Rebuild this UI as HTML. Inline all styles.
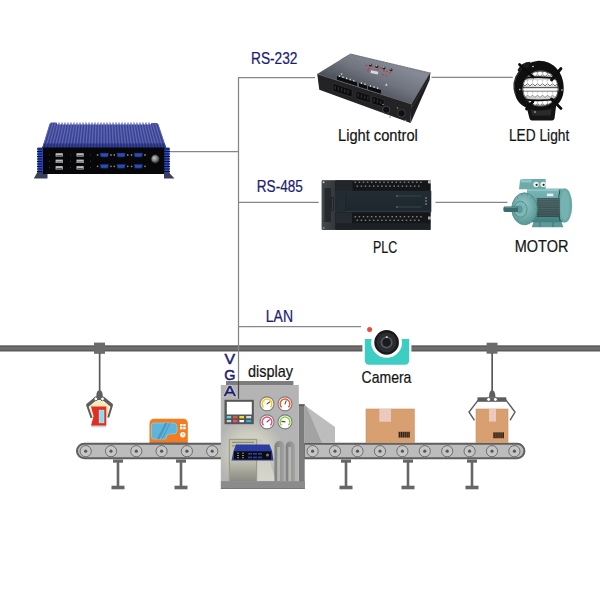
<!DOCTYPE html>
<html><head><meta charset="utf-8"><style>
html,body{margin:0;padding:0;background:#fff;width:600px;height:600px;overflow:hidden}
svg{display:block}
text{font-family:"Liberation Sans",sans-serif}
.nv{fill:#1c1c74;stroke:#1c1c74;stroke-width:0.22px;font-size:15.8px}
.bk{fill:#141414;stroke:#141414;stroke-width:0.22px;font-size:16.6px}
</style></head><body>
<svg width="600" height="600" viewBox="0 0 600 600">
<rect width="600" height="600" fill="#fff"/>
<!-- rail -->
<rect x="0" y="345.4" width="600" height="6.1" fill="#6f6f6f"/><rect x="0" y="345.7" width="600" height="1.1" fill="#575757"/><rect x="0" y="349.9" width="600" height="1.2" fill="#5b5b5b"/>

<rect x="77" y="443.8" width="160" height="14.4" rx="7.2" fill="#bcbcbc" stroke="#5e5e5e" stroke-width="2"/>
<circle cx="85.7" cy="451.2" r="5.6" fill="#c6c6c6" stroke="#6e6e6e" stroke-width="1"/><circle cx="85.7" cy="451.2" r="1.6" fill="#585858"/>
<circle cx="111.0" cy="451.2" r="5.6" fill="#c6c6c6" stroke="#6e6e6e" stroke-width="1"/><circle cx="111.0" cy="451.2" r="1.6" fill="#585858"/>
<circle cx="136.3" cy="451.2" r="5.6" fill="#c6c6c6" stroke="#6e6e6e" stroke-width="1"/><circle cx="136.3" cy="451.2" r="1.6" fill="#585858"/>
<circle cx="161.6" cy="451.2" r="5.6" fill="#c6c6c6" stroke="#6e6e6e" stroke-width="1"/><circle cx="161.6" cy="451.2" r="1.6" fill="#585858"/>
<circle cx="186.9" cy="451.2" r="5.6" fill="#c6c6c6" stroke="#6e6e6e" stroke-width="1"/><circle cx="186.9" cy="451.2" r="1.6" fill="#585858"/>
<circle cx="212.2" cy="451.2" r="5.6" fill="#c6c6c6" stroke="#6e6e6e" stroke-width="1"/><circle cx="212.2" cy="451.2" r="1.6" fill="#585858"/>
<path d="M304 443.8H517.2A7.2 7.2 0 0 1 517.2 458.2H304Z" fill="#bcbcbc" stroke="#5e5e5e" stroke-width="2"/>
<circle cx="312.6" cy="451.2" r="5.6" fill="#c6c6c6" stroke="#6e6e6e" stroke-width="1"/><circle cx="312.6" cy="451.2" r="1.6" fill="#585858"/>
<circle cx="335.0" cy="451.2" r="5.6" fill="#c6c6c6" stroke="#6e6e6e" stroke-width="1"/><circle cx="335.0" cy="451.2" r="1.6" fill="#585858"/>
<circle cx="357.5" cy="451.2" r="5.6" fill="#c6c6c6" stroke="#6e6e6e" stroke-width="1"/><circle cx="357.5" cy="451.2" r="1.6" fill="#585858"/>
<circle cx="380.0" cy="451.2" r="5.6" fill="#c6c6c6" stroke="#6e6e6e" stroke-width="1"/><circle cx="380.0" cy="451.2" r="1.6" fill="#585858"/>
<circle cx="402.4" cy="451.2" r="5.6" fill="#c6c6c6" stroke="#6e6e6e" stroke-width="1"/><circle cx="402.4" cy="451.2" r="1.6" fill="#585858"/>
<circle cx="424.8" cy="451.2" r="5.6" fill="#c6c6c6" stroke="#6e6e6e" stroke-width="1"/><circle cx="424.8" cy="451.2" r="1.6" fill="#585858"/>
<circle cx="447.2" cy="451.2" r="5.6" fill="#c6c6c6" stroke="#6e6e6e" stroke-width="1"/><circle cx="447.2" cy="451.2" r="1.6" fill="#585858"/>
<circle cx="469.6" cy="451.2" r="5.6" fill="#c6c6c6" stroke="#6e6e6e" stroke-width="1"/><circle cx="469.6" cy="451.2" r="1.6" fill="#585858"/>
<circle cx="492.0" cy="451.2" r="5.6" fill="#c6c6c6" stroke="#6e6e6e" stroke-width="1"/><circle cx="492.0" cy="451.2" r="1.6" fill="#585858"/>
<circle cx="514.4" cy="451.2" r="5.6" fill="#c6c6c6" stroke="#6e6e6e" stroke-width="1"/><circle cx="514.4" cy="451.2" r="1.6" fill="#585858"/>
<rect x="113" y="459.5" width="10" height="3.2" fill="#666"/><rect x="116.7" y="461" width="2.6" height="25" fill="#666"/><rect x="111.5" y="485.7" width="13" height="3.6" fill="#666"/>
<rect x="176" y="459.5" width="10" height="3.2" fill="#666"/><rect x="179.7" y="461" width="2.6" height="25" fill="#666"/><rect x="174.5" y="485.7" width="13" height="3.6" fill="#666"/>
<rect x="341" y="459.5" width="10" height="3.2" fill="#666"/><rect x="344.7" y="461" width="2.6" height="25" fill="#666"/><rect x="339.5" y="485.7" width="13" height="3.6" fill="#666"/>
<rect x="403" y="459.5" width="10" height="3.2" fill="#666"/><rect x="406.7" y="461" width="2.6" height="25" fill="#666"/><rect x="401.5" y="485.7" width="13" height="3.6" fill="#666"/>
<rect x="467" y="459.5" width="10" height="3.2" fill="#666"/><rect x="470.7" y="461" width="2.6" height="25" fill="#666"/><rect x="465.5" y="485.7" width="13" height="3.6" fill="#666"/>
<!-- machine -->
<defs>
<radialGradient id="glow" gradientUnits="userSpaceOnUse" cx="250" cy="452" r="34">
<stop offset="0" stop-color="#e2e2d0"/><stop offset="0.55" stop-color="#cdcdc0"/><stop offset="1" stop-color="#b4b4b4"/>
</radialGradient>
<linearGradient id="door" x1="0" y1="0" x2="0" y2="1">
<stop offset="0" stop-color="#c4c4aa"/><stop offset="0.45" stop-color="#c8c8b8"/><stop offset="0.7" stop-color="#aaaa9e"/><stop offset="1" stop-color="#8a8a82"/>
</linearGradient>
<linearGradient id="cone" x1="0" y1="0" x2="0" y2="1">
<stop offset="0" stop-color="#c8c8bc"/><stop offset="1" stop-color="#d6d6cc"/>
</linearGradient>
<linearGradient id="col" x1="0" y1="0" x2="1" y2="0">
<stop offset="0" stop-color="#7e7e7c"/><stop offset="0.5" stop-color="#929290"/><stop offset="1" stop-color="#a4a4a2"/>
</linearGradient>
</defs>
<rect x="226" y="381" width="67.4" height="4" fill="#7c7c7c"/>
<rect x="220.8" y="385" width="78" height="97" fill="url(#glow)"/>
<polygon points="256.5,439 262,439 276,481 256.5,481" fill="url(#cone)"/>
<rect x="228.8" y="438.8" width="28.4" height="42.5" fill="#9c9c88"/>
<rect x="230" y="440" width="26" height="41.3" fill="url(#door)"/>
<rect x="232" y="441.8" width="22" height="1.2" fill="#8f8f78"/>
<rect x="232" y="445.3" width="22" height="1.2" fill="#8f8f78"/>
<path d="M274.5 481V446a4.95 4.95 0 0 1 9.9 0V481Z" fill="url(#col)"/>
<path d="M285.8 481V446a4.6 4.6 0 0 1 9.2 0V481Z" fill="url(#col)"/>
<rect x="277.2" y="447" width="2.8" height="34" fill="#b6b6b3"/>
<rect x="288.4" y="447" width="2.8" height="34" fill="#b6b6b3"/>
<!-- right housing and chute -->
<rect x="298.9" y="404.3" width="5.8" height="84.7" fill="#7b7b7b"/><rect x="298.9" y="404.3" width="5.8" height="1.8" fill="#5e5e5e"/>
<polygon points="304.6,405.2 335,427.1 335,443 304.6,443" fill="#bdbdbd"/>
<polygon points="304.6,405.2 306.3,406.4 322,443 304.6,443" fill="#a3a3a3"/>
<rect x="220.8" y="481.2" width="84" height="7.8" fill="#8b8b8b"/>
<rect x="220.8" y="488" width="84" height="1" fill="#777"/>
<!-- screen panel -->
<rect x="224.5" y="399.8" width="29.3" height="24.4" fill="#555"/>
<rect x="226.8" y="401.8" width="25" height="12.7" fill="#fff"/>
<rect x="226.8" y="416" width="4.4" height="2.3" fill="#58d2ee"/>
<rect x="233" y="416" width="4.4" height="2.3" fill="#f0582a"/>
<rect x="239.4" y="416" width="4.6" height="2.3" fill="#f2e22a"/>
<rect x="246.2" y="416" width="5" height="2.3" fill="#d8d8d8"/>
<rect x="226.8" y="420" width="4.4" height="2.2" fill="#cfcfcf"/>
<rect x="233" y="420" width="4.4" height="2.2" fill="#f04a84"/>
<rect x="239.4" y="420" width="4.6" height="2.2" fill="#fafafa"/>
<rect x="246.2" y="420" width="5" height="2.2" fill="#22b4f0"/>
<!-- gauges -->
<circle cx="267" cy="403.9" r="7" fill="#fff" stroke="#7e7e7e" stroke-width="1.1"/>
<path d="M263.54 407.36A4.9 4.9 0 1 1 270.46 407.36" fill="none" stroke="#f7c623" stroke-width="1.5"/>
<path d="M267.00 403.90L269.62 402.06" stroke="#4a4a4a" stroke-width="1.1" stroke-linecap="round"/>
<circle cx="285" cy="403.9" r="7" fill="#fff" stroke="#7e7e7e" stroke-width="1.1"/>
<path d="M281.54 407.36A4.9 4.9 0 1 1 288.46 407.36" fill="none" stroke="#f05a28" stroke-width="1.5"/>
<path d="M285.00 403.90L286.09 400.89" stroke="#4a4a4a" stroke-width="1.1" stroke-linecap="round"/>
<circle cx="267" cy="421.9" r="7" fill="#fff" stroke="#7e7e7e" stroke-width="1.1"/>
<path d="M263.54 425.36A4.9 4.9 0 1 1 270.46 425.36" fill="none" stroke="#e8507a" stroke-width="1.5"/>
<path d="M267.00 421.90L269.45 419.84" stroke="#4a4a4a" stroke-width="1.1" stroke-linecap="round"/>
<circle cx="285" cy="421.9" r="7" fill="#fff" stroke="#7e7e7e" stroke-width="1.1"/>
<path d="M281.54 425.36A4.9 4.9 0 1 1 288.46 425.36" fill="none" stroke="#8ccf3e" stroke-width="1.5"/>
<path d="M285.00 421.90L281.85 421.34" stroke="#4a4a4a" stroke-width="1.1" stroke-linecap="round"/>
<!-- mini pc in machine -->
<polygon points="233.5,451 236,444.5 269.5,444.5 272,451" fill="#2f3fa6"/>
<g stroke="#24328a" stroke-width="0.5"><path d="M238 445V451M241 445V451M244 445V451M247 445V451M250 445V451M253 445V451M256 445V451M259 445V451M262 445V451M265 445V451M268 445V451"/></g>
<polygon points="231.5,460.5 233.5,451 272,451 273.5,460.5" fill="#2c3ba0"/>
<rect x="234" y="451.3" width="37.2" height="8.3" fill="#0c0c10"/>
<g fill="#8a8a8a"><rect x="237" y="452.7" width="2" height="1"/><rect x="237" y="455" width="2" height="1"/><rect x="237" y="457.2" width="2" height="1"/><rect x="242" y="452.7" width="2" height="1"/><rect x="242" y="455" width="2" height="1"/><rect x="242" y="457.2" width="2" height="1"/></g>
<g fill="#2a42a0"><rect x="248" y="453" width="4" height="1.6"/><rect x="253" y="453" width="4" height="1.6"/><rect x="258" y="453" width="4" height="1.6"/><rect x="248" y="456.6" width="4" height="1.6"/><rect x="253" y="456.6" width="4" height="1.6"/><rect x="258" y="456.6" width="4" height="1.6"/></g>
<circle cx="267.5" cy="455" r="1.5" fill="#777"/>

<!-- hangers -->
<rect x="94" y="342.6" width="11" height="11.2" fill="#6b6b6b"/>
<rect x="486.6" y="342.7" width="10.9" height="11" fill="#6b6b6b"/>
<rect x="98.8" y="353" width="1.7" height="38" fill="#5a5a5a"/>
<rect x="491.3" y="353" width="1.7" height="38" fill="#5a5a5a"/>
<!-- left claw -->
<path d="M96.3 397C96.3 392 97.5 390.6 99.6 390.6S102.8 392 102.8 397Z" fill="#5f5f5f"/>
<path d="M89.5 405.6L99.6 400.2L109.8 405.6L107 417L92.6 417Z" fill="#f6e8b8"/>
<path d="M91.6 418L87.2 405.4L96.5 398.3H102.8L111.9 405.4L108.2 417.5" fill="none" stroke="#5d5d5d" stroke-width="2" stroke-linejoin="round"/>
<path d="M87.2 405.6L96 398.4H103.2L112 405.6" fill="none" stroke="#5d5d5d" stroke-width="3.4" stroke-linejoin="round"/>
<circle cx="95.8" cy="398.9" r="1.9" fill="#fff" stroke="#5d5d5d" stroke-width="1"/>
<circle cx="102.5" cy="398.9" r="1.9" fill="#fff" stroke="#5d5d5d" stroke-width="1"/>
<path d="M91 406.4H106.3V425.8H91L93.6 416Z" fill="#e02e22"/>
<rect x="99.1" y="410.1" width="4.9" height="12.8" fill="#86dcf2" stroke="#d5f3fa" stroke-width="0.5"/>
<rect x="91.5" y="425.8" width="14.5" height="1.6" fill="#bfe0e0"/>
<!-- right claw -->
<path d="M489 397.5C489 392.3 490.3 390.6 492.2 390.6S495.4 392.3 495.4 397.5Z" fill="#5f5f5f"/>
<path d="M477.5 397.3H506.3V401.8H477.5Z" fill="#5d5d5d" />
<path d="M478.6 399.6L469 412L474.4 420.3" fill="none" stroke="#5d5d5d" stroke-width="1.4"/>
<path d="M505.6 399.6L515 412L510 420.3" fill="none" stroke="#5d5d5d" stroke-width="1.4"/>
<circle cx="488.6" cy="399.4" r="2" fill="#fff" stroke="#5d5d5d" stroke-width="1"/>
<circle cx="495.4" cy="399.4" r="2" fill="#fff" stroke="#5d5d5d" stroke-width="1"/>
<!-- boxes -->
<rect x="366" y="409" width="48.3" height="33.8" fill="#d8a070" stroke="#cc9060" stroke-width="0.6"/>
<rect x="379.3" y="409" width="11.7" height="12.7" fill="#ecc9bf"/>
<rect x="398.3" y="431.7" width="11.7" height="5.8" fill="#7a5a40"/>
<g stroke="#2a1810" stroke-width="0.9"><path d="M399.6 432V437.5M401.5 432V437.5M403.4 432V437.5M405.3 432V437.5M407.2 432V437.5M409 432V437.5"/></g>
<rect x="476" y="409" width="32" height="33.6" fill="#d8a070" stroke="#cc9060" stroke-width="0.6"/>
<rect x="489" y="409" width="7" height="12.6" fill="#ecc9bf"/>
<rect x="493" y="432.4" width="11" height="5.8" fill="#7a5a40"/>
<g stroke="#2a1810" stroke-width="0.9"><path d="M494.2 432.4V438.2M496.1 432.4V438.2M498 432.4V438.2M499.9 432.4V438.2M501.8 432.4V438.2M503.4 432.4V438.2"/></g>
<!-- orange microwave -->
<path d="M149.5 443V423.2A4.4 4.4 0 0 1 153.9 418.8H183.4A4.4 4.4 0 0 1 187.8 423.2V443Z" fill="#f47b1f"/>
<path d="M153.5 423H173.5A3.5 3.5 0 0 1 177 426.5V431A3 3 0 0 1 174 434H170A4 4 0 0 0 166 438V439H153.5A2 2 0 0 1 151.5 437V425A2 2 0 0 1 153.5 423Z" fill="#5fb4da" stroke="#78d4f2" stroke-width="0.8"/>
<path d="M157 439L165 423H167.5L159.5 439Z M161.5 439L169.5 423H170.6L162.6 439Z" fill="#4a98c0"/>
<rect x="180" y="424" width="2.5" height="2.3" fill="#fff"/><rect x="183.2" y="424" width="2.5" height="2.3" fill="#fff"/>
<rect x="180" y="427" width="2.5" height="2.3" fill="#fff"/><rect x="183.2" y="427" width="2.5" height="2.3" fill="#fff"/>
<circle cx="182.8" cy="434.7" r="2.7" fill="#fff"/>
<path d="M182.8 433V434.9H184.2" stroke="#f47b1f" stroke-width="0.6" fill="none"/>
<rect x="149.5" y="442.6" width="38.3" height="1.6" fill="#4f6470"/>
<!-- camera -->
<rect x="362.4" y="318.3" width="49" height="50" rx="10" fill="#fff"/>
<path d="M364.8 339H409.2V360.6A4.2 4.2 0 0 1 405 364.8H369A4.2 4.2 0 0 1 364.8 360.6Z" fill="#3ccdc3"/>
<circle cx="386.6" cy="342.4" r="15.4" fill="#fff"/>
<circle cx="386.6" cy="342.4" r="12.3" fill="#18191b"/>
<circle cx="386.6" cy="342.4" r="10" fill="#2a2c30"/>
<circle cx="386.6" cy="342.4" r="6" fill="#53575f"/>
<circle cx="386.6" cy="342.4" r="4.3" fill="#1a1b1e"/>
<rect x="385.8" y="336.4" width="1.8" height="1.4" fill="#f5f5f5"/>
<circle cx="369.6" cy="329.4" r="2.5" fill="#f2483a"/>

<!-- connection lines -->
<g stroke="#868686" stroke-width="1.25" fill="none">
<path d="M238.5 77V398.5"/>
<path d="M238.5 77.6H315"/>
<path d="M167 151.5H238.5"/>
<path d="M238.5 202.3H318.7"/>
<path d="M238.5 326.6H361"/>
<path d="M431.5 77.4H512.8"/>
<path d="M435.5 202.3H507.4"/>
</g>
<path d="M238.5 381V398.7" stroke="#4a4a4a" stroke-width="1.1"/>

<!-- labels -->
<text class="nv" x="251" y="63.7" textLength="46.5" lengthAdjust="spacingAndGlyphs">RS-232</text>
<text class="nv" x="256.8" y="192.4" textLength="46" lengthAdjust="spacingAndGlyphs">RS-485</text>
<text class="nv" x="265.8" y="321.7" textLength="27.2" lengthAdjust="spacingAndGlyphs">LAN</text>
<text class="nv" x="224.5" y="364.2" style="font-size:14.6px;stroke-width:0.5px" textLength="10.6" lengthAdjust="spacingAndGlyphs">V</text>
<text class="nv" x="224.2" y="380.2" style="font-size:14.8px;stroke-width:0.5px" textLength="11.2" lengthAdjust="spacingAndGlyphs">G</text>
<text x="223.8" y="396.2" style="font-size:14.8px;fill:none;stroke:#e6e6d2;stroke-width:1.6px;font-family:'Liberation Sans',sans-serif" textLength="12" lengthAdjust="spacingAndGlyphs">A</text>
<text class="nv" x="223.8" y="396.2" style="font-size:14.8px;stroke-width:0.5px" textLength="12" lengthAdjust="spacingAndGlyphs">A</text>
<text class="bk" x="338" y="141.2" textLength="79.8" lengthAdjust="spacingAndGlyphs">Light control</text>
<text class="bk" x="509" y="140.7" textLength="60.2" lengthAdjust="spacingAndGlyphs">LED Light</text>
<text class="bk" x="373" y="253" textLength="24.2" lengthAdjust="spacingAndGlyphs">PLC</text>
<text class="bk" x="514.8" y="251.6" textLength="53.6" lengthAdjust="spacingAndGlyphs">MOTOR</text>
<text class="bk" x="361.6" y="383" textLength="49.8" lengthAdjust="spacingAndGlyphs">Camera</text>
<text class="bk" x="248" y="376.7" textLength="45" lengthAdjust="spacingAndGlyphs">display</text>


<defs>
<linearGradient id="pcTop" x1="0" y1="0" x2="0" y2="1"><stop offset="0" stop-color="#4e58a6"/><stop offset="0.75" stop-color="#4850a0"/><stop offset="1" stop-color="#343e8a"/></linearGradient>
<radialGradient id="pwr" cx="0.4" cy="0.4" r="0.6"><stop offset="0" stop-color="#c8c8c8"/><stop offset="0.55" stop-color="#7a7a7a"/><stop offset="1" stop-color="#333"/></radialGradient>
<clipPath id="pcTopClip"><polygon points="49.5,124 51,122.6 56.5,122.6 57.5,124.6 150.5,124.6 151.5,123 157,123 158.5,124.5 166.5,148.5 42,148.5"/></clipPath>
</defs>
<polygon points="49.5,124 51,122.6 56.5,122.6 57.5,124.6 150.5,124.6 151.5,123 157,123 158.5,124.5 166.5,148.5 42,148.5" fill="url(#pcTop)"/>
<path d="M59.0 122.4V125M62.0 122.4V125M65.0 122.4V125M68.0 122.4V125M71.0 122.4V125M74.0 122.4V125M77.0 122.4V125M80.0 122.4V125M83.0 122.4V125M86.0 122.4V125M89.0 122.4V125M92.0 122.4V125M95.0 122.4V125M98.0 122.4V125M101.0 122.4V125M104.0 122.4V125M107.0 122.4V125M110.0 122.4V125M113.0 122.4V125M116.0 122.4V125M119.0 122.4V125M122.0 122.4V125M125.0 122.4V125M128.0 122.4V125M131.0 122.4V125M134.0 122.4V125M137.0 122.4V125M140.0 122.4V125M143.0 122.4V125M146.0 122.4V125M149.0 122.4V125" stroke="#7078b8" stroke-width="1.4"/>
<g clip-path="url(#pcTopClip)">
<path d="M50.0 123.5L42.5 148.5M52.7 123.5L45.6 148.5M55.4 123.5L48.7 148.5M58.1 123.5L51.8 148.5M60.8 123.5L54.9 148.5M63.5 123.5L57.9 148.5M66.2 123.5L61.0 148.5M68.9 123.5L64.1 148.5M71.6 123.5L67.2 148.5M74.3 123.5L70.3 148.5M77.0 123.5L73.4 148.5M79.7 123.5L76.5 148.5M82.4 123.5L79.5 148.5M85.1 123.5L82.6 148.5M87.8 123.5L85.7 148.5M90.5 123.5L88.8 148.5M93.2 123.5L91.9 148.5M95.9 123.5L95.0 148.5M98.6 123.5L98.1 148.5M101.3 123.5L101.2 148.5M104.0 123.5L104.2 148.5M106.7 123.5L107.3 148.5M109.4 123.5L110.4 148.5M112.1 123.5L113.5 148.5M114.8 123.5L116.6 148.5M117.5 123.5L119.7 148.5M120.2 123.5L122.8 148.5M122.9 123.5L125.9 148.5M125.6 123.5L128.9 148.5M128.3 123.5L132.0 148.5M131.0 123.5L135.1 148.5M133.7 123.5L138.2 148.5M136.4 123.5L141.3 148.5M139.1 123.5L144.4 148.5M141.8 123.5L147.5 148.5M144.5 123.5L150.6 148.5M147.2 123.5L153.7 148.5M149.9 123.5L156.7 148.5M152.6 123.5L159.8 148.5M155.3 123.5L162.9 148.5M158.0 123.5L166.0 148.5" stroke="#6a74bc" stroke-width="0.9" opacity="0.8"/>
<path d="M51.4 123.5L44.0 148.5M54.1 123.5L47.1 148.5M56.8 123.5L50.2 148.5M59.5 123.5L53.3 148.5M62.2 123.5L56.4 148.5M64.9 123.5L59.5 148.5M67.6 123.5L62.6 148.5M70.3 123.5L65.7 148.5M73.0 123.5L68.8 148.5M75.7 123.5L71.8 148.5M78.4 123.5L74.9 148.5M81.1 123.5L78.0 148.5M83.8 123.5L81.1 148.5M86.5 123.5L84.2 148.5M89.2 123.5L87.3 148.5M91.9 123.5L90.4 148.5M94.6 123.5L93.5 148.5M97.3 123.5L96.5 148.5M100.0 123.5L99.6 148.5M102.7 123.5L102.7 148.5M105.4 123.5L105.8 148.5M108.1 123.5L108.9 148.5M110.8 123.5L112.0 148.5M113.5 123.5L115.1 148.5M116.2 123.5L118.1 148.5M118.9 123.5L121.2 148.5M121.6 123.5L124.3 148.5M124.3 123.5L127.4 148.5M127.0 123.5L130.5 148.5M129.7 123.5L133.6 148.5M132.4 123.5L136.7 148.5M135.1 123.5L139.8 148.5M137.8 123.5L142.9 148.5M140.5 123.5L145.9 148.5M143.2 123.5L149.0 148.5M145.9 123.5L152.1 148.5M148.6 123.5L155.2 148.5M151.3 123.5L158.3 148.5M154.0 123.5L161.4 148.5M156.7 123.5L164.5 148.5M159.4 123.5L167.6 148.5" stroke="#2a3482" stroke-width="0.8" opacity="0.7"/>
<rect x="40" y="143.5" width="130" height="5" fill="#14206a" opacity="0.45"/>
</g>
<rect x="37.5" y="147.5" width="5" height="26" fill="#2c4cc4"/>
<path d="M37 149.0H42.5M37 151.5H42.5M37 154.0H42.5M37 156.5H42.5M37 159.0H42.5M37 161.5H42.5M37 164.0H42.5M37 166.5H42.5M37 169.0H42.5M37 171.5H42.5" stroke="#0a1040" stroke-width="1"/>
<rect x="164" y="147.5" width="5.5" height="27.5" fill="#2c4cc4"/>
<path d="M164 149.0H170M164 151.5H170M164 154.0H170M164 156.5H170M164 159.0H170M164 161.5H170M164 164.0H170M164 166.5H170M164 169.0H170M164 171.5H170M164 174.0H170" stroke="#0a1040" stroke-width="1"/>
<rect x="42" y="147.5" width="122.3" height="26.5" fill="#070709"/>
<path d="M42.5 148V173.5" stroke="#2a3ea8" stroke-width="1"/>
<polygon points="33.8,178.6 37.5,172 42.5,172 42.5,174 47.5,174 47.5,178.6" fill="#3a3e5a"/>
<polygon points="164,172.5 168.8,172.5 174.5,178.6 164,178.6" fill="#3a3e5a"/>
<rect x="55.6" y="153.2" width="7.2" height="3.4" fill="#bdbdbd"/><rect x="56.4" y="155.1" width="5.6" height="1" fill="#555"/>
<rect x="55.6" y="159.6" width="7.2" height="3.4" fill="#bdbdbd"/><rect x="56.4" y="161.5" width="5.6" height="1" fill="#555"/>
<rect x="55.6" y="166.1" width="7.2" height="3.4" fill="#bdbdbd"/><rect x="56.4" y="168.0" width="5.6" height="1" fill="#555"/>
<rect x="76.5" y="153.2" width="7.2" height="3.4" fill="#bdbdbd"/><rect x="77.3" y="155.1" width="5.6" height="1" fill="#555"/>
<rect x="76.5" y="159.6" width="7.2" height="3.4" fill="#bdbdbd"/><rect x="77.3" y="161.5" width="5.6" height="1" fill="#555"/>
<rect x="76.5" y="166.1" width="7.2" height="3.4" fill="#bdbdbd"/><rect x="77.3" y="168.0" width="5.6" height="1" fill="#555"/>
<circle cx="49.5" cy="154.8" r="0.6" fill="#3a3a3a"/>
<circle cx="49.5" cy="161.2" r="0.6" fill="#3a3a3a"/>
<circle cx="49.5" cy="167.7" r="0.6" fill="#3a3a3a"/>
<circle cx="70.5" cy="154.8" r="0.6" fill="#3a3a3a"/>
<circle cx="70.5" cy="161.2" r="0.6" fill="#3a3a3a"/>
<circle cx="70.5" cy="167.7" r="0.6" fill="#3a3a3a"/>
<circle cx="90.5" cy="154.8" r="0.6" fill="#3a3a3a"/>
<circle cx="90.5" cy="161.2" r="0.6" fill="#3a3a3a"/>
<circle cx="90.5" cy="167.7" r="0.6" fill="#3a3a3a"/>
<path d="M100 153H108.7L107.9 157H100.8Z" fill="#2d4cb0" stroke="#101a48" stroke-width="0.5"/>
<circle cx="97.6" cy="155" r="0.9" fill="#8a8070"/><circle cx="111" cy="155" r="0.9" fill="#8a8070"/>
<path d="M100 164.3H108.7L107.9 168.3H100.8Z" fill="#2d4cb0" stroke="#101a48" stroke-width="0.5"/>
<circle cx="97.6" cy="166.3" r="0.9" fill="#8a8070"/><circle cx="111" cy="166.3" r="0.9" fill="#8a8070"/>
<path d="M116.7 153H125.4L124.60000000000001 157H117.5Z" fill="#2d4cb0" stroke="#101a48" stroke-width="0.5"/>
<circle cx="114.3" cy="155" r="0.9" fill="#8a8070"/><circle cx="127.7" cy="155" r="0.9" fill="#8a8070"/>
<path d="M116.7 164.3H125.4L124.60000000000001 168.3H117.5Z" fill="#2d4cb0" stroke="#101a48" stroke-width="0.5"/>
<circle cx="114.3" cy="166.3" r="0.9" fill="#8a8070"/><circle cx="127.7" cy="166.3" r="0.9" fill="#8a8070"/>
<path d="M134 153H142.7L141.9 157H134.8Z" fill="#2d4cb0" stroke="#101a48" stroke-width="0.5"/>
<circle cx="131.6" cy="155" r="0.9" fill="#8a8070"/><circle cx="145" cy="155" r="0.9" fill="#8a8070"/>
<path d="M134 164.3H142.7L141.9 168.3H134.8Z" fill="#2d4cb0" stroke="#101a48" stroke-width="0.5"/>
<circle cx="131.6" cy="166.3" r="0.9" fill="#8a8070"/><circle cx="145" cy="166.3" r="0.9" fill="#8a8070"/>
<circle cx="155.3" cy="159" r="4.4" fill="url(#pwr)" stroke="#111" stroke-width="0.9"/>
<defs>
<linearGradient id="lcTop" gradientUnits="userSpaceOnUse" x1="386" y1="60" x2="372" y2="93"><stop offset="0" stop-color="#868a96"/><stop offset="0.55" stop-color="#70747e"/><stop offset="1" stop-color="#50545e"/></linearGradient>
</defs>
<polygon points="317.2,74 350.5,53.6 430.4,72.4 411.2,104" fill="url(#lcTop)"/>
<polygon points="317.2,74 411.2,104 410.6,123 319.3,89.8" fill="#232326"/>
<polygon points="411.2,104 430.4,72.4 429.6,80 410.6,123" fill="#1e1e22"/><path d="M411.6 108L429.8 77" stroke="#3c3c42" stroke-width="0.6"/>
<path d="M317.2 74L411.4 104L430.4 72.4" fill="none" stroke="#5a5a60" stroke-width="0.6"/>
<polygon points="333.0,83.5 352.0,89.6 352.0,97.1 333.0,91.0" fill="#0b0b0c" stroke="#3c3c40" stroke-width="0.5"/>
<rect x="334.5" y="86.0" width="1.5" height="3.5" fill="#2a2a2e"/>
<rect x="337.7" y="87.0" width="1.5" height="3.5" fill="#2a2a2e"/>
<rect x="340.9" y="88.0" width="1.5" height="3.5" fill="#2a2a2e"/>
<rect x="344.1" y="89.1" width="1.5" height="3.5" fill="#2a2a2e"/>
<rect x="347.3" y="90.1" width="1.5" height="3.5" fill="#2a2a2e"/>
<polygon points="356.0,90.9 370.0,95.3 370.0,102.8 356.0,98.4" fill="#0b0b0c" stroke="#3c3c40" stroke-width="0.5"/>
<rect x="357.5" y="93.3" width="1.5" height="3.5" fill="#2a2a2e"/>
<rect x="360.7" y="94.4" width="1.5" height="3.5" fill="#2a2a2e"/>
<rect x="363.9" y="95.4" width="1.5" height="3.5" fill="#2a2a2e"/>
<rect x="367.1" y="96.4" width="1.5" height="3.5" fill="#2a2a2e"/>
<polygon points="372.0,96.0 384.0,99.8 384.0,107.3 372.0,103.5" fill="#0b0b0c" stroke="#3c3c40" stroke-width="0.5"/>
<rect x="373.5" y="98.4" width="1.5" height="3.5" fill="#2a2a2e"/>
<rect x="376.7" y="99.4" width="1.5" height="3.5" fill="#2a2a2e"/>
<rect x="379.9" y="100.5" width="1.5" height="3.5" fill="#2a2a2e"/>
<polygon points="337.0,76.1 357.0,82.5 357.0,86.1 337.0,79.7" fill="#0c0c0e"/>
<rect x="338.8" y="75.3" width="1.2" height="1.6" fill="#d8d8d8"/>
<rect x="342.4" y="76.4" width="1.2" height="1.6" fill="#d8d8d8"/>
<rect x="346.0" y="77.6" width="1.2" height="1.6" fill="#d8d8d8"/>
<rect x="349.6" y="78.7" width="1.2" height="1.6" fill="#d8d8d8"/>
<rect x="353.2" y="79.9" width="1.2" height="1.6" fill="#d8d8d8"/>
<polygon points="359.0,83.1 367.0,85.7 367.0,89.3 359.0,86.7" fill="#0c0c0e"/>
<rect x="360.8" y="82.3" width="1.2" height="1.6" fill="#d8d8d8"/>
<rect x="364.4" y="83.4" width="1.2" height="1.6" fill="#d8d8d8"/>
<polygon points="368.0,86.0 381.0,90.1 381.0,93.7 368.0,89.6" fill="#0c0c0e"/>
<rect x="369.8" y="85.2" width="1.2" height="1.6" fill="#d8d8d8"/>
<rect x="373.4" y="86.3" width="1.2" height="1.6" fill="#d8d8d8"/>
<rect x="377.0" y="87.4" width="1.2" height="1.6" fill="#d8d8d8"/>
<path d="M340.5 73.5l2.2 0l-1.1 1.6z" fill="#e8e8e8"/>
<path d="M385 85.5l2.6 0l-1.3 -2z" fill="#e8e8e8"/>
<g stroke="#6a6a70" stroke-width="0.5"><path d="M323 72L337 63.5M326 73L340 64.5M329 74L343 65.5M336 68.5L345 63M341 59.5L348 55.6"/></g>
<circle cx="366.5" cy="65.5" r="0.8" fill="#d82a2a"/>
<circle cx="369" cy="68.5" r="0.8" fill="#d82a2a"/>
<circle cx="372" cy="66" r="0.8" fill="#d82a2a"/>
<circle cx="375.5" cy="67" r="0.8" fill="#d82a2a"/>
<circle cx="378" cy="69.5" r="0.8" fill="#d82a2a"/>
<circle cx="381" cy="68" r="0.8" fill="#d82a2a"/>
<circle cx="384" cy="71" r="0.8" fill="#d82a2a"/>
<circle cx="387" cy="71.5" r="0.8" fill="#d82a2a"/>
<circle cx="390" cy="73" r="0.8" fill="#d82a2a"/>
<circle cx="368" cy="70.5" r="0.8" fill="#d82a2a"/>
<circle cx="383" cy="74.5" r="0.8" fill="#d82a2a"/>
<circle cx="386.5" cy="75.5" r="0.8" fill="#d82a2a"/>
<circle cx="370.3" cy="65" r="1.5" fill="#1e1e22"/><circle cx="370.1" cy="64.3" r="0.7" fill="#dcdce0"/>
<circle cx="377" cy="66.5" r="1.5" fill="#1e1e22"/><circle cx="376.8" cy="65.8" r="0.7" fill="#dcdce0"/>
<circle cx="384" cy="68" r="1.5" fill="#1e1e22"/><circle cx="383.8" cy="67.3" r="0.7" fill="#dcdce0"/>
<circle cx="391" cy="69.8" r="1.5" fill="#1e1e22"/><circle cx="390.8" cy="69.1" r="0.7" fill="#dcdce0"/>
<polygon points="371,70.3 378.4,71.8 377.8,74.6 370.4,73.1" fill="#d8d8dc"/>
<circle cx="386.3" cy="109.8" r="3.6" fill="#101012" stroke="#505056" stroke-width="0.7"/>
<circle cx="401.5" cy="113.3" r="3.8" fill="#101012" stroke="#505056" stroke-width="0.7"/>
<circle cx="383" cy="104.5" r="0.8" fill="#8a8a90"/>
<circle cx="390" cy="117" r="0.8" fill="#8a8a90"/>
<circle cx="397.5" cy="108" r="0.8" fill="#8a8a90"/>
<circle cx="405.5" cy="120.5" r="0.8" fill="#8a8a90"/>
<path d="M352 54.8L428 72.8" stroke="#606066" stroke-width="0.6" stroke-dasharray="1.5 2"/>
<defs>
<radialGradient id="lens" cx="0.5" cy="0.5" r="0.5"><stop offset="0" stop-color="#e4e4e4"/><stop offset="0.85" stop-color="#c8c8c8"/><stop offset="1" stop-color="#7a7a7a"/></radialGradient>
<clipPath id="lensClip"><circle cx="540.5" cy="88.6" r="18"/></clipPath>
</defs>
<path d="M525.5 103H556.5L554.5 118.5Q554 120.6 552 120.6H532Q530 120.6 529.5 118.5Z" fill="#141414"/>
<path d="M531 109.5H551.5L550.5 115.5H532Z" fill="#2a2a2a"/>
<path d="M514.3 88C514.3 72 524 62.5 538.5 60.8C553 60.5 563.7 72 563.7 88.5C563.7 102 555 110 540 110.5C524 110.5 514.3 102 514.3 88Z" fill="#0f0f0f"/>
<path d="M517.5 70Q521 62 530.5 61.8L528 67.5Q522 68 519.5 73Z" fill="#1c1c1c"/>
<path d="M515.8 95A24 24 0 0 1 519 72" stroke="#2e2e2e" stroke-width="1.4" fill="none"/>
<circle cx="540.5" cy="88.6" r="18" fill="url(#lens)"/>
<g clip-path="url(#lensClip)">
<ellipse cx="530" cy="74.2" rx="2.1" ry="2.6" fill="#ffffff"/>
<path d="M527.8 74.7L530.0 76.5L532.2 74.7" stroke="#777770" stroke-width="1" fill="none"/>
<ellipse cx="535" cy="74.2" rx="2.1" ry="2.6" fill="#ffffff"/>
<path d="M532.8 74.7L535.0 76.5L537.2 74.7" stroke="#777770" stroke-width="1" fill="none"/>
<ellipse cx="540" cy="74.2" rx="2.1" ry="2.6" fill="#ffffff"/>
<path d="M537.8 74.7L540.0 76.5L542.2 74.7" stroke="#777770" stroke-width="1" fill="none"/>
<ellipse cx="545" cy="74.2" rx="2.1" ry="2.6" fill="#ffffff"/>
<path d="M542.8 74.7L545.0 76.5L547.2 74.7" stroke="#777770" stroke-width="1" fill="none"/>
<ellipse cx="550" cy="74.2" rx="2.1" ry="2.6" fill="#ffffff"/>
<path d="M547.8 74.7L550.0 76.5L552.2 74.7" stroke="#777770" stroke-width="1" fill="none"/>
<ellipse cx="525" cy="83" rx="2.3" ry="3.3" fill="#ffffff"/>
<path d="M522.8 83.7L525.0 86.0L527.2 83.7" stroke="#777770" stroke-width="1" fill="none"/>
<ellipse cx="530" cy="83" rx="2.3" ry="3.3" fill="#ffffff"/>
<path d="M527.8 83.7L530.0 86.0L532.2 83.7" stroke="#777770" stroke-width="1" fill="none"/>
<ellipse cx="535" cy="83" rx="2.3" ry="3.3" fill="#ffffff"/>
<path d="M532.8 83.7L535.0 86.0L537.2 83.7" stroke="#777770" stroke-width="1" fill="none"/>
<ellipse cx="540" cy="83" rx="2.3" ry="3.3" fill="#ffffff"/>
<path d="M537.8 83.7L540.0 86.0L542.2 83.7" stroke="#777770" stroke-width="1" fill="none"/>
<ellipse cx="545" cy="83" rx="2.3" ry="3.3" fill="#ffffff"/>
<path d="M542.8 83.7L545.0 86.0L547.2 83.7" stroke="#777770" stroke-width="1" fill="none"/>
<ellipse cx="550" cy="83" rx="2.3" ry="3.3" fill="#ffffff"/>
<path d="M547.8 83.7L550.0 86.0L552.2 83.7" stroke="#777770" stroke-width="1" fill="none"/>
<ellipse cx="555" cy="83" rx="2.3" ry="3.3" fill="#ffffff"/>
<path d="M552.8 83.7L555.0 86.0L557.2 83.7" stroke="#777770" stroke-width="1" fill="none"/>
<ellipse cx="525" cy="94.6" rx="2.3" ry="3.3" fill="#ffffff"/>
<path d="M522.8 95.3L525.0 97.6L527.2 95.3" stroke="#777770" stroke-width="1" fill="none"/>
<ellipse cx="530" cy="94.6" rx="2.3" ry="3.3" fill="#ffffff"/>
<path d="M527.8 95.3L530.0 97.6L532.2 95.3" stroke="#777770" stroke-width="1" fill="none"/>
<ellipse cx="535" cy="94.6" rx="2.3" ry="3.3" fill="#ffffff"/>
<path d="M532.8 95.3L535.0 97.6L537.2 95.3" stroke="#777770" stroke-width="1" fill="none"/>
<ellipse cx="540" cy="94.6" rx="2.3" ry="3.3" fill="#ffffff"/>
<path d="M537.8 95.3L540.0 97.6L542.2 95.3" stroke="#777770" stroke-width="1" fill="none"/>
<ellipse cx="545" cy="94.6" rx="2.3" ry="3.3" fill="#ffffff"/>
<path d="M542.8 95.3L545.0 97.6L547.2 95.3" stroke="#777770" stroke-width="1" fill="none"/>
<ellipse cx="550" cy="94.6" rx="2.3" ry="3.3" fill="#ffffff"/>
<path d="M547.8 95.3L550.0 97.6L552.2 95.3" stroke="#777770" stroke-width="1" fill="none"/>
<ellipse cx="555" cy="94.6" rx="2.3" ry="3.3" fill="#ffffff"/>
<path d="M552.8 95.3L555.0 97.6L557.2 95.3" stroke="#777770" stroke-width="1" fill="none"/>
<ellipse cx="530" cy="103.3" rx="2.1" ry="2.6" fill="#ffffff"/>
<path d="M527.8 103.8L530.0 105.6L532.2 103.8" stroke="#777770" stroke-width="1" fill="none"/>
<ellipse cx="535" cy="103.3" rx="2.1" ry="2.6" fill="#ffffff"/>
<path d="M532.8 103.8L535.0 105.6L537.2 103.8" stroke="#777770" stroke-width="1" fill="none"/>
<ellipse cx="540" cy="103.3" rx="2.1" ry="2.6" fill="#ffffff"/>
<path d="M537.8 103.8L540.0 105.6L542.2 103.8" stroke="#777770" stroke-width="1" fill="none"/>
<ellipse cx="545" cy="103.3" rx="2.1" ry="2.6" fill="#ffffff"/>
<path d="M542.8 103.8L545.0 105.6L547.2 103.8" stroke="#777770" stroke-width="1" fill="none"/>
<ellipse cx="550" cy="103.3" rx="2.1" ry="2.6" fill="#ffffff"/>
<path d="M547.8 103.8L550.0 105.6L552.2 103.8" stroke="#777770" stroke-width="1" fill="none"/>
<rect x="522" y="88.4" width="37" height="2.2" fill="#ffffff"/>
<rect x="522" y="87" width="37" height="1.1" fill="#5a5a5a"/>
<rect x="522" y="90.8" width="37" height="0.8" fill="#7a7a7a"/>
<path d="M522 78.3Q540 75.8 558 78.8" stroke="#0c0c0c" stroke-width="1.6" fill="none"/>
<path d="M522 99.4Q540 101.6 558 99" stroke="#0c0c0c" stroke-width="1.6" fill="none"/>
<circle cx="540.5" cy="88.6" r="18" fill="none" stroke="#222" stroke-width="1.6" opacity="0.7"/>
</g>
<g stroke="#0c0c0c" stroke-width="2.8" fill="none" stroke-linecap="round"><path d="M519.5 64.5L533 77"/><path d="M561 68.5L551.5 80"/><path d="M561 108.5L551.5 99"/><path d="M526.5 109L533 101.5"/></g>
<circle cx="519.8" cy="89.5" r="0.8" fill="#d8d8d8"/>
<circle cx="533" cy="66.5" r="0.8" fill="#d8d8d8"/>
<circle cx="562" cy="90" r="0.8" fill="#d8d8d8"/>
<circle cx="535" cy="112" r="0.8" fill="#d8d8d8"/>
<defs>
<linearGradient id="plcMid" x1="0" y1="0" x2="0" y2="1"><stop offset="0" stop-color="#222c34"/><stop offset="0.9" stop-color="#1e272e"/><stop offset="1" stop-color="#34424e"/></linearGradient>
<linearGradient id="plcEnd" x1="0" y1="0" x2="1" y2="0"><stop offset="0" stop-color="#44484c"/><stop offset="1" stop-color="#33373b"/></linearGradient>
</defs>
<path d="M321.8 181.5Q321.8 180.4 323 180.4H430.5V229.8H323Q321.8 229.8 321.8 228.6Z" fill="#1c1f22"/>
<rect x="321.8" y="180.4" width="13.7" height="49.4" fill="url(#plcEnd)"/>
<rect x="324.5" y="188" width="6.5" height="34" fill="#24282c"/>
<g stroke="#2a2f34" stroke-width="0.5"><path d="M325 189.0H330.5"/><path d="M325 191.2H330.5"/><path d="M325 193.4H330.5"/><path d="M325 195.6H330.5"/><path d="M325 197.8H330.5"/><path d="M325 200.0H330.5"/><path d="M325 202.2H330.5"/><path d="M325 204.4H330.5"/><path d="M325 206.6H330.5"/><path d="M325 208.8H330.5"/><path d="M325 211.0H330.5"/><path d="M325 213.2H330.5"/><path d="M325 215.4H330.5"/><path d="M325 217.6H330.5"/><path d="M325 219.8H330.5"/></g>
<rect x="331.3" y="197.5" width="2.4" height="13" fill="#3a3e42" stroke="#15181a" stroke-width="0.6"/>
<circle cx="323.6" cy="182.3" r="1" fill="#c8c8c8"/><circle cx="323.6" cy="228" r="1" fill="#8a8a8a"/>
<rect x="335.5" y="180.4" width="95" height="10.5" fill="#141618"/>
<rect x="335.5" y="180.4" width="17" height="12.5" fill="#22262a"/>
<rect x="335.5" y="190.8" width="95.8" height="21.6" fill="url(#plcMid)"/>
<rect x="336.5" y="194" width="8.5" height="18" fill="#232c33"/>
<rect x="345" y="192.5" width="0.5" height="20" fill="#1a2228"/>
<path d="M398 196H421M398 207H421" stroke="#52606a" stroke-width="0.5"/>
<circle cx="397" cy="196" r="0.7" fill="#8a9aa2"/><circle cx="397" cy="207" r="0.7" fill="#8a9aa2"/>
<rect x="425" y="197.5" width="2" height="1" fill="#8a9aa2"/>
<rect x="425" y="200.5" width="2" height="1" fill="#8a9aa2"/>
<rect x="425" y="203.5" width="2" height="1" fill="#8a9aa2"/>
<rect x="335.5" y="212.4" width="95" height="11" fill="#141618"/>
<rect x="335.5" y="212.4" width="16.5" height="17.4" fill="#252b30"/>
<rect x="335.5" y="223.3" width="95" height="6.5" fill="#1d2125"/>
<rect x="354.5" y="181.6" width="1.6" height="1.3" fill="#80858a"/>
<rect x="358.6" y="181.6" width="1.6" height="1.3" fill="#80858a"/>
<rect x="362.7" y="181.6" width="1.6" height="1.3" fill="#80858a"/>
<rect x="366.8" y="181.6" width="1.6" height="1.3" fill="#80858a"/>
<rect x="370.9" y="181.6" width="1.6" height="1.3" fill="#80858a"/>
<rect x="375.0" y="181.6" width="1.6" height="1.3" fill="#80858a"/>
<rect x="379.1" y="181.6" width="1.6" height="1.3" fill="#80858a"/>
<rect x="383.2" y="181.6" width="1.6" height="1.3" fill="#80858a"/>
<rect x="387.3" y="181.6" width="1.6" height="1.3" fill="#80858a"/>
<rect x="391.4" y="181.6" width="1.6" height="1.3" fill="#80858a"/>
<rect x="395.5" y="181.6" width="1.6" height="1.3" fill="#80858a"/>
<rect x="399.6" y="181.6" width="1.6" height="1.3" fill="#80858a"/>
<rect x="403.7" y="181.6" width="1.6" height="1.3" fill="#80858a"/>
<rect x="407.8" y="181.6" width="1.6" height="1.3" fill="#80858a"/>
<rect x="411.9" y="181.6" width="1.6" height="1.3" fill="#80858a"/>
<rect x="416.0" y="181.6" width="1.6" height="1.3" fill="#80858a"/>
<rect x="420.1" y="181.6" width="1.6" height="1.3" fill="#80858a"/>
<rect x="356.5" y="185.5" width="1.6" height="1.3" fill="#80858a"/>
<rect x="360.6" y="185.5" width="1.6" height="1.3" fill="#80858a"/>
<rect x="364.7" y="185.5" width="1.6" height="1.3" fill="#80858a"/>
<rect x="368.8" y="185.5" width="1.6" height="1.3" fill="#80858a"/>
<rect x="372.9" y="185.5" width="1.6" height="1.3" fill="#80858a"/>
<rect x="377.0" y="185.5" width="1.6" height="1.3" fill="#80858a"/>
<rect x="381.1" y="185.5" width="1.6" height="1.3" fill="#80858a"/>
<rect x="385.2" y="185.5" width="1.6" height="1.3" fill="#80858a"/>
<rect x="389.3" y="185.5" width="1.6" height="1.3" fill="#80858a"/>
<rect x="393.4" y="185.5" width="1.6" height="1.3" fill="#80858a"/>
<rect x="397.5" y="185.5" width="1.6" height="1.3" fill="#80858a"/>
<rect x="401.6" y="185.5" width="1.6" height="1.3" fill="#80858a"/>
<rect x="405.7" y="185.5" width="1.6" height="1.3" fill="#80858a"/>
<rect x="409.8" y="185.5" width="1.6" height="1.3" fill="#80858a"/>
<rect x="413.9" y="185.5" width="1.6" height="1.3" fill="#80858a"/>
<rect x="418.0" y="185.5" width="1.6" height="1.3" fill="#80858a"/>
<rect x="354.5" y="216.1" width="1.6" height="1.3" fill="#80858a"/>
<rect x="358.6" y="216.1" width="1.6" height="1.3" fill="#80858a"/>
<rect x="362.7" y="216.1" width="1.6" height="1.3" fill="#80858a"/>
<rect x="366.8" y="216.1" width="1.6" height="1.3" fill="#80858a"/>
<rect x="370.9" y="216.1" width="1.6" height="1.3" fill="#80858a"/>
<rect x="375.0" y="216.1" width="1.6" height="1.3" fill="#80858a"/>
<rect x="379.1" y="216.1" width="1.6" height="1.3" fill="#80858a"/>
<rect x="383.2" y="216.1" width="1.6" height="1.3" fill="#80858a"/>
<rect x="387.3" y="216.1" width="1.6" height="1.3" fill="#80858a"/>
<rect x="391.4" y="216.1" width="1.6" height="1.3" fill="#80858a"/>
<rect x="395.5" y="216.1" width="1.6" height="1.3" fill="#80858a"/>
<rect x="399.6" y="216.1" width="1.6" height="1.3" fill="#80858a"/>
<rect x="403.7" y="216.1" width="1.6" height="1.3" fill="#80858a"/>
<rect x="407.8" y="216.1" width="1.6" height="1.3" fill="#80858a"/>
<rect x="411.9" y="216.1" width="1.6" height="1.3" fill="#80858a"/>
<rect x="416.0" y="216.1" width="1.6" height="1.3" fill="#80858a"/>
<rect x="420.1" y="216.1" width="1.6" height="1.3" fill="#80858a"/>
<rect x="356.5" y="219.6" width="1.6" height="1.3" fill="#80858a"/>
<rect x="360.6" y="219.6" width="1.6" height="1.3" fill="#80858a"/>
<rect x="364.7" y="219.6" width="1.6" height="1.3" fill="#80858a"/>
<rect x="368.8" y="219.6" width="1.6" height="1.3" fill="#80858a"/>
<rect x="372.9" y="219.6" width="1.6" height="1.3" fill="#80858a"/>
<rect x="377.0" y="219.6" width="1.6" height="1.3" fill="#80858a"/>
<rect x="381.1" y="219.6" width="1.6" height="1.3" fill="#80858a"/>
<rect x="385.2" y="219.6" width="1.6" height="1.3" fill="#80858a"/>
<rect x="389.3" y="219.6" width="1.6" height="1.3" fill="#80858a"/>
<rect x="393.4" y="219.6" width="1.6" height="1.3" fill="#80858a"/>
<rect x="397.5" y="219.6" width="1.6" height="1.3" fill="#80858a"/>
<rect x="401.6" y="219.6" width="1.6" height="1.3" fill="#80858a"/>
<rect x="405.7" y="219.6" width="1.6" height="1.3" fill="#80858a"/>
<rect x="409.8" y="219.6" width="1.6" height="1.3" fill="#80858a"/>
<rect x="413.9" y="219.6" width="1.6" height="1.3" fill="#80858a"/>
<rect x="418.0" y="219.6" width="1.6" height="1.3" fill="#80858a"/>
<rect x="428" y="180.4" width="3" height="3" fill="#b8b8b8"/><rect x="428" y="216.5" width="3" height="3" fill="#a8a8a8"/>
<defs>
<linearGradient id="mBody" x1="0" y1="0" x2="0" y2="1"><stop offset="0" stop-color="#7cb8b8"/><stop offset="0.5" stop-color="#5e9ea0"/><stop offset="1" stop-color="#427e80"/></linearGradient>
<linearGradient id="mFin" x1="0" y1="0" x2="0" y2="1"><stop offset="0" stop-color="#425c5e"/><stop offset="1" stop-color="#33494b"/></linearGradient>
<radialGradient id="mFront" cx="0.45" cy="0.4" r="0.6"><stop offset="0" stop-color="#94cac8"/><stop offset="1" stop-color="#5c9898"/></radialGradient>
</defs>
<polygon points="531.7,227.2 534,220.5 561,220.5 563.4,227.2" fill="#5e9a9a"/>
<path d="M540 221V227M553 221V227" stroke="#3e7072" stroke-width="1"/>
<path d="M527 188.6H565V222.2H527Z" fill="url(#mBody)"/>
<ellipse cx="565" cy="205.4" rx="7.2" ry="17" fill="#6aa8a8"/><path d="M560 189.5Q556.5 205.4 560 221.3" stroke="#2e4e50" stroke-width="1" fill="none"/>
<ellipse cx="565" cy="205.4" rx="4.5" ry="15" fill="#76b2b2"/>
<rect x="536.8" y="198" width="23" height="19" fill="url(#mFin)"/>
<g stroke="#5c7676" stroke-width="0.5"><path d="M537 199.5H559.5"/><path d="M537 201.3H559.5"/><path d="M537 203.1H559.5"/><path d="M537 204.9H559.5"/><path d="M537 206.7H559.5"/><path d="M537 208.5H559.5"/><path d="M537 210.3H559.5"/><path d="M537 212.1H559.5"/><path d="M537 213.9H559.5"/><path d="M537 215.7H559.5"/></g>
<path d="M527 190H558" stroke="#a0d2d0" stroke-width="1.2"/>
<rect x="546.9" y="193.6" width="6.4" height="2.6" fill="#f0f0f0"/>
<polygon points="519,189.2 520,180 523,179 545.6,179 545.6,189.2" fill="#6eaaa8"/>
<rect x="520.5" y="179.5" width="11" height="3" fill="#8ec6c4"/>
<circle cx="536.1" cy="184.4" r="2.7" fill="#f2f2f2"/><circle cx="536.6" cy="184.8" r="1.1" fill="#1e2a2a"/>
<circle cx="543.1" cy="184.4" r="2.7" fill="#f2f2f2"/><circle cx="543.6" cy="184.8" r="1.1" fill="#1e2a2a"/>
<ellipse cx="524.5" cy="208.8" rx="12.8" ry="16" fill="url(#mFront)"/>
<ellipse cx="524.5" cy="208.8" rx="12.8" ry="16" fill="none" stroke="#4c8688" stroke-width="0.8"/>
<g stroke="#5a9292" stroke-width="0.8"><path d="M534.5 208.8L537.0 208.8"/><path d="M533.5 214.5L535.8 215.6"/><path d="M530.7 219.0L532.3 221.0"/><path d="M526.7 221.5L527.2 224.0"/><path d="M522.2 221.5L521.7 224.0"/><path d="M518.2 218.9L516.6 220.9"/><path d="M515.5 214.4L513.2 215.5"/><path d="M514.5 208.7L512.0 208.7"/><path d="M515.5 203.0L513.3 201.9"/><path d="M518.3 198.5L516.8 196.5"/><path d="M522.4 196.1L521.9 193.6"/><path d="M526.9 196.2L527.4 193.6"/><path d="M530.8 198.8L532.4 196.7"/><path d="M533.6 203.3L535.8 202.3"/></g>
<ellipse cx="520.5" cy="209.3" rx="6.5" ry="8" fill="#7cb8b6" stroke="#4c8486" stroke-width="0.8"/>
<ellipse cx="519.5" cy="209.3" rx="3.2" ry="4" fill="#5e9a9a"/>
<path d="M504.5 206.6H518V211.9H504.5A1.2 2.65 0 0 1 504.5 206.6Z" fill="#3c6c70"/>
<path d="M505 207.4H517" stroke="#6a9ea0" stroke-width="0.8"/>
</svg>
</body></html>
